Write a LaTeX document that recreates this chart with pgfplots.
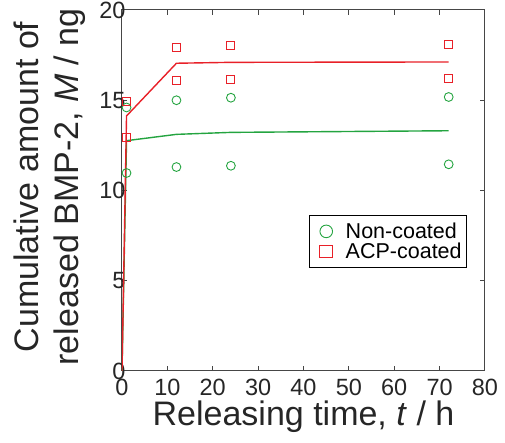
\documentclass[border=0pt]{standalone}
\usepackage{fontspec}
\setmainfont{Liberation Sans}
\usepackage{pgfplots}
\pgfplotsset{compat=1.18}
\usetikzlibrary{calc}
\definecolor{cred}{RGB}{232,32,40}
\definecolor{cgreen}{RGB}{36,164,64}
\definecolor{caxis}{RGB}{70,70,70}
\begin{document}
\begin{tikzpicture}
\begin{axis}[
  name=ax,
  width=363pt,height=361pt,scale only axis,
  xmin=0,xmax=80,ymin=0,ymax=20,
  xtick={0,10,...,80},ytick={0,5,...,20},
  xtick pos=both,ytick pos=both,
  tick align=inside,major tick length=5pt,
  axis line style={draw=caxis,line width=1pt},
  every tick/.style={caxis,line width=1pt},
  /pgf/number format/assume math mode=true,
  tick label style={font=\fontsize{23.5}{23.5}\selectfont,text=black!85},
  xticklabel style={yshift=-5pt},
  yticklabel style={xshift=7pt},
  label style={font=\fontsize{34}{40}\selectfont,text=black!85},
  xlabel={Releasing time, \textit{t} / h},
  ylabel={Cumulative amount of\\released BMP-2, \textit{M} / ng},
  xlabel style={at={(axis description cs:0.5,-0.1496)},anchor=base},
  ylabel style={align=center,at={(axis description cs:-0.1983,0.51)},anchor=center},
  legend style={at={(0.515,0.432)},anchor=north west,draw=black,line width=0.6pt,
    font=\fontsize{21.5}{21.5}\selectfont,inner xsep=3pt,inner ysep=6pt,
    nodes={inner sep=1.5pt},row sep=0pt},
  legend cell align=left,
]
\addplot[only marks,mark=o,mark size=4.4pt,mark options={cgreen,line width=0.9pt},
  legend image code/.code={\path[draw=none] (0pt,0pt) (32pt,0pt);
    \draw[cgreen,line width=0.9pt] (14pt,0pt) circle (6.3pt);}]
  coordinates {(1,10.97) (1,14.6) (12,11.3) (12,15.0) (24,11.37) (24,15.14) (72,11.45) (72,15.18)};
\addlegendentry{Non-coated}
\addplot[only marks,mark=square,mark size=4pt,mark options={cred,line width=0.9pt},
  legend image code/.code={\path[draw=none] (0pt,0pt) (32pt,0pt);
    \draw[cred,line width=0.9pt] (14pt,0pt) ++(-6.3pt,-6.3pt) rectangle ++(12.6pt,12.6pt);}]
  coordinates {(1,12.96) (1,14.92) (12,16.1) (12,17.93) (24,16.16) (24,18.06) (72,16.18) (72,18.08)};
\addlegendentry{ACP-coated}
\addplot[cgreen,line width=1.4pt,forget plot]
  coordinates {(0,0) (1,12.76) (12,13.11) (24,13.22) (72,13.31)};
\addplot[cred,line width=1.4pt,forget plot]
  coordinates {(0,0) (1,14.13) (12,17.05) (24,17.1) (72,17.12)};
\end{axis}
\pgfresetboundingbox
\useasboundingbox ($(ax.south west)+(-122pt,-72pt)$) rectangle ++(505pt,443pt);
\end{tikzpicture}
\end{document}
